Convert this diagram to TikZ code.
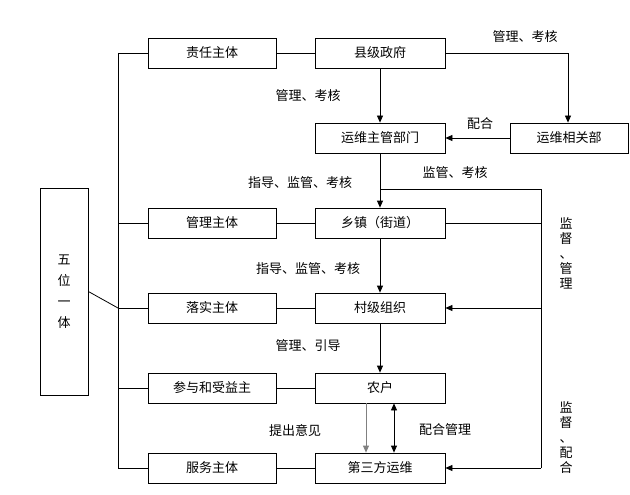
\documentclass[tikz,border=0pt]{standalone}
\usepackage{fontspec}
\setmainfont{Noto Sans CJK SC}
\usetikzlibrary{arrows.meta}
\begin{document}
\begin{tikzpicture}[x=1pt,y=-1pt,
  box/.style={draw,thick,minimum width=128pt,minimum height=30pt,inner sep=0pt,font=\fontsize{13}{15}\selectfont},
  lbl/.style={font=\fontsize{13}{15}\selectfont,inner sep=1pt},
  arr/.style={-{Triangle[length=7pt,width=6pt]}},
  every path/.style={line width=0.8pt}]
\useasboundingbox (0,0) rectangle (630,495);
\node[box,minimum width=130pt] (xian) at (380,53) {县级政府};
\node[box,minimum width=130pt] (yzg) at (380,138) {运维主管部门};
\node[box,minimum width=118pt] (yxg) at (569,138) {运维相关部};
\node[box,minimum width=130pt] (xz) at (380,223) {乡镇（街道）};
\node[box,minimum width=130pt] (cj) at (380,308) {村级组织};
\node[box,minimum width=130pt] (nh) at (380,388) {农户};
\node[box,minimum width=130pt] (dsf) at (380,468) {第三方运维};
\node[box] (zr) at (212,53) {责任主体};
\node[box] (gl) at (212,223) {管理主体};
\node[box] (ls) at (212,308) {落实主体};
\node[box] (cy) at (212,388) {参与和受益主};
\node[box] (fw) at (212,468) {服务主体};
\node[box,minimum width=48pt,minimum height=207pt,align=center] (wy) at (64,291.5) {五\\[6pt]位\\[6pt]一\\[6pt]体};
\coordinate (lt) at (118,53);
\coordinate (lb) at (118,468);
\coordinate (rt) at (541,189);
\coordinate (rb) at (541,468);
\coordinate (mj) at (380,189);
\coordinate (tr) at (568,53);
% left bus
\draw (lt) -- (lb);
\draw (wy.east) -- (118,308);
\foreach \n in {zr,gl,ls,cy,fw} {\draw (\n.west -| lt) -- (\n.west); \draw (\n.east) -- (\n.east -| xian.west);}
% center column
\draw[arr] (xian) -- (yzg);
\draw[arr] (yzg) -- (xz);
\draw[arr] (xz) -- (cj);
\draw[arr] (cj) -- (nh);
\draw[arr,gray] (nh.south -| 366,0) -- (dsf.north -| 366,0);
\draw[{Triangle[length=7pt,width=6pt]}-{Triangle[length=7pt,width=6pt]}] (nh.south -| 394,0) -- (dsf.north -| 394,0);
% top right
\draw[arr] (xian.east) -- (tr) -- (yxg.north -| tr);
\draw[arr] (yxg) -- (yzg);
% right bus
\draw (mj) -- (rt) -- (rb);
\draw (xz.east) -- (xz.east -| rt);
\draw[arr] (cj.east -| rt) -- (cj.east);
\draw[arr] (rb) -- (dsf.east);
% labels
\node[lbl] (l1) at (525,37) {管理、考核};
\node[lbl] (l2) at (480,124) {配合};
\node[lbl] (l3) at (308,96) {管理、考核};
\node[lbl] (l4) at (300,183) {指导、监管、考核};
\node[lbl] (l5) at (455,173) {监管、考核};
\node[lbl] (l6) at (308,269) {指导、监管、考核};
\node[lbl] (l7) at (308,346) {管理、引导};
\node[lbl] (l8) at (295,430) {提出意见};
\node[lbl] (l9) at (445,430) {配合管理};
\node[lbl,align=center] (l10) at (566,253) {监\\督\\、\\管\\理};
\node[lbl,align=center] (l11) at (566,438) {监\\督\\、\\配\\合};
\end{tikzpicture}
\end{document}
